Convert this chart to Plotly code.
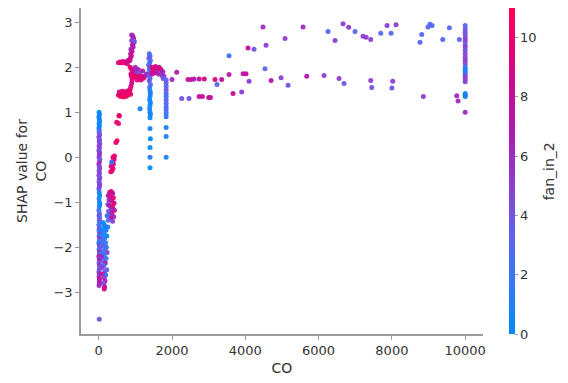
import plotly.graph_objects as go

# ---- data: CO feature value, SHAP value for CO, and fan_in_2 (colour) ----
co = [
    # column at CO ~ 0
    10, 20, 5, 15, 25, 10, 20, 5, 15,
    10, 25, 5, 20, 15, 30, 10, 20, 5, 25, 15, 10, 30, 20, 5, 15, 25, 10, 20, 5, 30, 15, 10, 25, 20, 5,
    15, 25, 10, 20, 30, 15, 5,
    20, 10, 25, 15, 30, 5, 20, 10,
    15, 25, 10, 30, 20, 5, 15, 25, 10, 20, 30, 5, 15, 25, 10, 20, 30, 15, 5, 25, 10, 20, 15, 25, 10,
    15,
    # column at CO ~ 60-250
    120, 150, 180, 100, 200, 140, 90, 220, 160, 110, 190, 80, 130, 210, 170, 100, 230, 150, 90, 200,
    120, 180, 140, 100, 220, 160, 120, 190, 150, 170, 140, 160, 150,
    # magenta cluster CO 230-450
    300, 340, 380, 260, 320, 400, 280, 360, 420, 250, 300, 380, 340, 430, 270, 360, 300, 410, 330, 260,
    380, 230, 250,
    # red rising points
    330, 360, 390, 340, 400, 370, 420, 390, 430, 355, 470, 500, 490, 540, 560, 555,
    # red band ~1.4
    540, 580, 620, 660, 700, 740, 780, 560, 640, 720, 800, 840, 860, 880, 900, 820, 600, 680, 760, 870,
    910, 890,
    # band ~2.1
    540, 580, 620, 660, 700, 740, 780, 800,
    # magenta column up to 2.75
    900, 930, 950, 900, 960, 920, 940, 880, 910, 870, 890, 860, 850, 970,
    # cluster 1.75-2.05
    860, 900, 940, 980, 1020, 1060, 1100, 1140, 1180, 1220, 1260, 880, 920, 960, 1000, 1040, 1080, 1000,
    1120, 1200, 1300, 1050, 1150,
    # blue column at CO ~ 1400
    1380, 1400, 1370, 1410, 1390, 1360, 1400, 1380, 1410, 1370, 1390, 1400, 1380, 1410, 1390, 1400,
    1410, 1400, 1390, 1410, 1400, 1390, 1400, 1410, 1400, 1400, 1410, 1400, 1400, 1400,
    # cluster 1400-1810
    1450, 1500, 1550, 1600, 1650, 1700, 1750, 1480, 1530, 1580, 1630, 1680, 1720, 1780, 1760, 1460,
    # column at CO ~ 1840
    1840, 1840, 1840, 1840, 1840, 1840, 1840, 1840, 1840, 1840, 1840, 1840, 1840, 1840, 1840,
    1130,
    # scattered points 2000-9900
    2000, 2129, 2265, 2464, 2437, 2530, 2600, 2740, 2880, 2740, 2830, 3000, 3050, 3174, 3356, 3228,
    3556, 3556, 3665, 3902, 3938, 4020, 4102, 4074, 4238, 4484, 4566, 4539, 4703, 4975, 5085, 5167,
    5576, 5676, 6149, 6258, 6449, 6558, 6667, 6694, 6820, 6994, 7213, 7295, 7423, 7423, 7450, 7696,
    7868, 7977, 8023, 8000, 8113, 8768, 8815, 8858, 8987, 9041, 9096, 9388, 9568, 9770, 9805, 9841,
    # column at CO = 10000
    10000, 10000, 10000, 10000, 10000, 10000, 10000, 10000, 10000, 10000, 10000, 10000, 10000, 10000,
    10000, 10000, 10000, 10000, 10000, 10000, 10000, 10000, 10000, 10000,
]

shap = [
    1.0, 0.95, 0.9, 0.85, 0.8, 0.75, 0.7, 0.65, 0.6,
    0.55, 0.5, 0.45, 0.4, 0.35, 0.3, 0.25, 0.2, 0.15, 0.1, 0.05, 0.0, -0.05, -0.1, -0.15, -0.2, -0.25,
    -0.3, -0.35, -0.4, -0.45, -0.5, -0.55, -0.6, -0.65, -0.7,
    -0.78, -0.85, -0.92, -1.0, -1.05, -1.1, -1.18,
    -1.25, -1.3, -1.35, -1.4, -1.45, -1.5, -1.55, -1.6,
    -1.65, -1.7, -1.75, -1.8, -1.85, -1.9, -1.95, -2.0, -2.05, -2.1, -2.15, -2.2, -2.25, -2.3, -2.35,
    -2.4, -2.45, -2.5, -2.55, -2.6, -2.65, -2.7, -2.75, -2.8, -2.85,
    -3.6,
    -1.45, -1.5, -1.55, -1.6, -1.62, -1.68, -1.72, -1.75, -1.8, -1.85, -1.9, -1.93, -1.98, -2.0, -2.05,
    -2.1, -2.12, -2.18, -2.22, -2.25, -2.3, -2.35, -2.4, -2.45, -2.5, -2.55, -2.6, -2.62, -2.68, -2.75,
    -2.8, -2.88, -2.93,
    -0.78, -0.76, -0.8, -0.85, -0.88, -0.9, -0.95, -0.98, -1.02, -1.05, -1.08, -1.1, -1.15, -1.18, -1.2,
    -1.25, -1.28, -1.32, -1.35, -1.4, -1.42, -1.3, -1.55,
    -0.32, -0.3, -0.25, -0.2, -0.15, -0.1, -0.05, 0.0, 0.03, -0.11, 0.33, 0.37, 0.78, 0.75, 0.92, 0.93,
    1.38, 1.4, 1.38, 1.42, 1.38, 1.4, 1.43, 1.45, 1.47, 1.46, 1.48, 1.45, 1.52, 1.58, 1.65, 1.4, 1.35,
    1.34, 1.36, 1.4, 1.72, 1.8,
    2.1, 2.12, 2.1, 2.13, 2.1, 2.12, 2.08, 2.15,
    2.72, 2.7, 2.65, 2.6, 2.55, 2.5, 2.45, 2.4, 2.35, 2.3, 2.25, 2.2, 2.15, 2.58,
    2.0, 1.95, 1.9, 1.85, 1.8, 1.78, 1.82, 1.78, 1.8, 1.76, 1.8, 1.85, 1.8, 1.78, 1.95, 1.9, 1.95, 2.0,
    1.9, 1.92, 1.85, 1.72, 1.72,
    2.3, 2.25, 2.2, 2.15, 2.1, 2.05, 2.0, 1.95, 1.9, 1.85, 1.8, 1.75, 1.7, 1.62, 1.55, 1.48, 1.42, 1.35,
    1.28, 1.22, 1.15, 1.08, 1.0, 0.95, 0.88, 0.64, 0.41, 0.22, 0.0, -0.23,
    2.0, 1.98, 2.02, 1.98, 2.0, 1.95, 1.9, 1.92, 1.88, 1.9, 1.85, 1.88, 1.82, 1.8, 1.75, 1.85,
    1.72, 1.65, 1.58, 1.5, 1.42, 1.35, 1.28, 1.2, 1.12, 1.05, 0.98, 0.9, 0.66, 0.46, 0.0,
    1.08,
    1.73, 1.89, 1.31, 1.31, 1.73, 1.73, 1.74, 1.74, 1.74, 1.35, 1.35, 1.33, 1.33, 1.73, 1.73, 1.62,
    2.26, 1.84, 1.42, 1.45, 1.86, 1.86, 1.69, 2.43, 2.4, 2.9, 2.49, 1.97, 1.71, 1.77, 2.64, 1.6,
    2.9, 1.8, 1.82, 2.8, 2.6, 1.75, 2.97, 1.64, 2.89, 2.8, 2.69, 2.67, 2.62, 1.71, 1.55, 2.76,
    2.93, 2.76, 1.69, 1.54, 2.95, 2.56, 2.73, 1.35, 2.9, 2.96, 2.93, 2.62, 2.88, 1.37, 1.25, 2.62,
    2.93, 2.85, 2.78, 2.72, 2.65, 2.58, 2.5, 2.45, 2.38, 2.3, 2.22, 2.15, 2.08, 2.0, 1.95, 1.9,
    1.85, 1.8, 1.74, 1.68, 1.42, 1.38, 1.35, 1.0,
]

fan_in_2 = [
    0, 1, 0, 1, 0, 1, 0, 1, 2,
    3, 4, 5, 4, 5, 4, 5, 5, 4, 5, 6, 5, 4, 5, 6, 5, 5, 4, 5, 5, 4, 5, 4, 5, 5, 4,
    1, 0, 1, 1, 0, 1, 2,
    3, 4, 3, 4, 3, 2, 3, 4,
    1, 5, 2, 6, 3, 1, 5, 4, 2, 6, 3, 7, 5, 8, 4, 6, 3, 5, 4, 7, 5, 9, 6, 8, 6,
    4,
    1, 0, 1, 0, 1, 2, 1, 0, 1, 3, 2, 1, 4, 1, 3, 2, 5, 1, 6, 2, 3, 7, 2, 5, 3, 4, 8, 2, 5, 7, 4, 8, 9,
    9, 10, 8, 7, 9, 10, 6, 8, 9, 5, 7, 10, 6, 7, 4, 9, 5, 6, 8, 3, 5, 2, 1,
    10, 10, 10, 9, 10, 10, 10, 9, 10, 2, 10, 10, 10, 10, 10, 10,
    10, 10, 10, 10, 10, 10, 10, 9, 10, 10, 9, 10, 10, 9, 8, 11, 10, 11, 10, 10, 9, 8,
    9, 10, 10, 9, 10, 10, 9, 8,
    7, 6, 7, 5, 7, 8, 7, 6, 8, 7, 9, 8, 9, 4,
    10, 10, 9, 10, 10, 9, 10, 10, 9, 10, 8, 9, 10, 10, 7, 5, 8, 6, 4, 7, 6, 10, 9,
    3, 2, 4, 3, 2, 3, 4, 2, 3, 5, 4, 3, 4, 3, 2, 1, 1, 1, 0, 1, 0, 1, 0, 1, 0, 1, 0, 0, 1, 0,
    9, 8, 9, 10, 8, 9, 7, 10, 9, 8, 7, 6, 5, 6, 4, 8,
    3, 4, 3, 4, 3, 2, 3, 3, 2, 3, 2, 2, 1, 1, 1,
    1,
    6, 7, 4, 4, 8, 8, 7, 8, 9, 8, 8, 8, 8, 9, 8, 3,
    2, 7, 8, 5, 7, 8, 5, 8, 4, 6, 5, 3, 7, 5, 5, 4,
    6, 7, 5, 3, 5, 5, 5, 4, 5, 3, 5, 5, 5, 5, 4, 3,
    5, 3, 5, 4, 5, 3, 3, 5, 3, 3, 3, 3, 3, 6, 6, 3,
    3, 4, 4, 4, 5, 5, 4, 5, 4, 5, 5, 5, 5, 2, 1, 1, 2, 5, 5, 5, 1, 0, 1, 6,
]

x_ticks = [0, 2000, 4000, 6000, 8000, 10000]
x_tick_labels = ["0", "2000", "4000", "6000", "8000", "10000"]
y_ticks = [-3, -2, -1, 0, 1, 2, 3]
cbar_ticks = [0, 2, 4, 6, 8, 10]

red_blue = [
    [0.0, "#008bfb"],
    [0.15, "#2f79f6"],
    [0.3, "#5f63ec"],
    [0.45, "#8a40d4"],
    [0.6, "#a81eb4"],
    [0.75, "#c80a95"],
    [0.9, "#e80070"],
    [1.0, "#ff0052"],
]

txt = "#333333"
axis_col = "#9a9a9a"

fig = go.Figure(go.Scatter(
    x=co, y=shap, mode="markers",
    marker=dict(
        size=5, color=fan_in_2, cmin=0, cmax=11, colorscale=red_blue,
        opacity=0.95, line=dict(width=0),
        colorbar=dict(
            thickness=6, len=1, lenmode="fraction", y=0.5, yanchor="middle",
            x=1.065, xanchor="left", outlinewidth=0, xpad=0, ypad=0,
            tickvals=cbar_ticks, ticks="outside", ticklen=3, tickcolor=axis_col,
            tickfont=dict(family="DejaVu Sans", size=13, color=txt),
        ),
    ),
    showlegend=False,
))

fig.add_annotation(
    text="fan_in_2", xref="paper", yref="paper", x=1.165, y=0.5,
    xanchor="center", yanchor="middle", textangle=-90, showarrow=False,
    font=dict(family="DejaVu Sans", size=14, color=txt),
)

fig.update_layout(
    width=568, height=383,
    margin=dict(l=73, r=93, t=0, b=57, autoexpand=False),
    paper_bgcolor="white", plot_bgcolor="white",
    font=dict(family="DejaVu Sans", color=txt, size=13),
)
fig.update_xaxes(
    range=[-483, 10486], tickvals=x_ticks, ticktext=x_tick_labels,
    showgrid=False, zeroline=False, automargin=False,
    showline=True, linecolor=axis_col, linewidth=1.5, mirror=False,
    ticks="outside", ticklen=4, tickcolor=axis_col,
    tickfont=dict(size=13, color=txt),
    title=dict(text="CO", standoff=6, font=dict(size=14, color=txt)),
)
fig.update_yaxes(
    range=[-3.93, 3.32], tickvals=y_ticks, showgrid=False, zeroline=False, automargin=False,
    showline=True, linecolor=axis_col, linewidth=1.5, mirror=False,
    ticks="outside", ticklen=4, tickcolor=axis_col,
    tickfont=dict(size=13, color=txt),
    title=dict(text="SHAP value for<br>CO", standoff=4, font=dict(size=14, color=txt)),
)

fig.write_html("out.html")
